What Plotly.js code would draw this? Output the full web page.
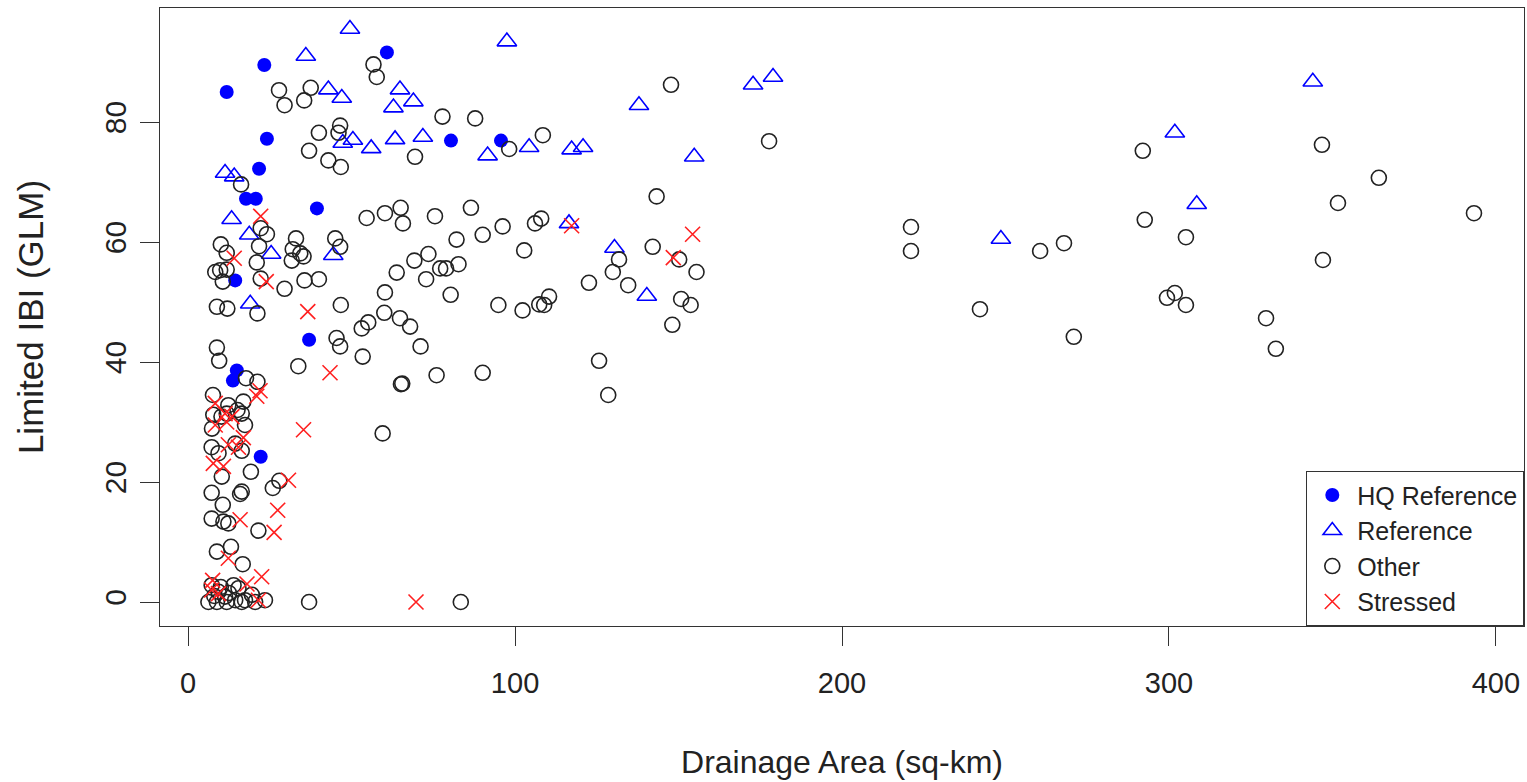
<!DOCTYPE html>
<html>
<head>
<meta charset="utf-8">
<script src="https://cdn.plot.ly/plotly-3.0.1.min.js"></script>
<style>html,body{margin:0;padding:0;background:#fff;}#chart{width:1527px;height:782px;}</style>
</head>
<body>
<div id="chart"></div>
<script>
// HQ Reference (filled blue circles)
const hqX = [23.3, 11.8, 60.8, 24.1, 21.7, 17.7, 20.7, 39.4, 14.4, 37.0, 14.9, 13.7, 22.2, 80.4, 95.7];
const hqY = [89.5, 85.0, 91.6, 77.2, 72.2, 67.2, 67.2, 65.6, 53.6, 43.7, 38.6, 36.9, 24.2, 76.9, 76.9];

// Reference (open blue triangles)
const refX = [49.5, 36.0, 97.5, 42.9, 47.0, 64.8, 62.8, 68.9, 47.3, 50.4, 56.0, 63.3, 71.8, 91.6, 104.3,
  11.3, 14.1, 13.3, 18.7, 25.4, 44.4, 19.0, 137.9, 117.3, 120.8, 154.8, 116.5, 130.4, 140.3,
  172.8, 178.9, 344.0, 301.8, 308.5, 248.6];
const refY = [95.5, 91.0, 93.4, 85.4, 84.0, 85.4, 82.4, 83.4, 76.5, 77.0, 75.6, 77.1, 77.5, 74.4, 75.8,
  71.5, 70.9, 63.8, 61.2, 58.0, 57.8, 49.7, 82.8, 75.4, 75.8, 74.2, 63.1, 59.0, 51.0,
  86.2, 87.5, 86.7, 78.2, 66.3, 60.5];

// Other (open black circles)
const othX = [27.8, 29.5, 37.5, 35.5, 46.5, 46.0, 40.0, 37.0, 42.9, 46.7, 16.2,
  56.7, 57.7, 77.8, 87.8, 69.4, 98.2,
  22.2, 24.1, 21.7, 10.0, 11.8, 21.0, 33.0, 32.0, 34.3, 31.7, 35.3, 45.0, 46.5, 8.3, 9.8, 11.8, 10.6, 22.2, 29.5, 35.6, 40.0,
  8.8, 12.0, 21.2, 46.7, 45.4, 46.5, 8.8, 9.5, 33.7, 17.7, 21.2,
  7.6, 12.3, 16.9, 15.1, 7.7, 11.8, 16.4, 17.4, 7.3, 10.2,
  7.2, 9.3, 14.4, 16.4, 10.3, 19.2, 25.9, 27.9, 16.4, 15.9, 7.2, 10.6, 21.5, 7.2, 10.8, 12.3, 8.8, 13.1, 16.7,
  7.2, 9.3, 11.3, 13.9, 15.4, 17.4, 19.5, 20.5, 23.5, 6.2, 8.8, 11.8, 14.4, 16.4, 37.0, 83.4, 8.0, 10.0, 12.5,
  54.6, 60.2, 65.0, 75.5, 86.5, 106.1, 108.0, 65.7, 96.2, 90.1, 82.1, 102.8, 73.5, 69.2, 63.8, 72.8, 77.1, 78.9, 82.7,
  80.3, 60.2, 60.0, 55.1, 53.1, 64.8, 67.9, 71.1, 53.4, 94.9, 102.3, 107.4, 76.0, 90.1, 65.1, 65.5, 59.5,
  147.7, 108.5, 143.3, 131.8, 142.1, 150.2, 129.9, 155.5, 122.6, 134.6, 150.8, 153.7, 110.4, 108.9, 148.1, 125.7, 128.5, 177.7,
  221.1, 221.1, 242.2, 260.6, 267.9, 270.9, 292.0, 292.6, 299.4, 301.8, 305.2, 305.2, 329.7, 332.7, 346.8, 351.7, 347.1, 364.2, 393.3];
const othY = [85.3, 82.8, 85.7, 83.6, 79.4, 78.2, 78.2, 75.2, 73.6, 72.5, 69.6,
  89.6, 87.5, 80.9, 80.6, 74.2, 75.5,
  62.3, 61.3, 59.3, 59.6, 58.2, 56.6, 60.6, 58.8, 58.1, 56.9, 57.6, 60.6, 59.2, 55.0, 55.3, 55.4, 53.4, 53.9, 52.2, 53.6, 53.8,
  49.2, 48.9, 48.1, 49.5, 44.0, 42.6, 42.4, 40.2, 39.3, 37.3, 36.7,
  34.5, 32.8, 33.4, 32.0, 31.2, 31.4, 31.4, 29.5, 28.9, 30.9,
  25.8, 24.8, 26.4, 25.2, 20.9, 21.7, 19.0, 20.2, 18.4, 18.0, 18.2, 16.2, 11.9, 13.9, 13.4, 13.1, 8.4, 9.2, 6.3,
  2.8, 1.7, 0.9, 2.8, 2.3, 0.3, 1.2, 0.0, 0.3, 0.0, 0.0, 0.0, 0.3, 0.0, 0.0, 0.0, 1.0, 2.5, 1.5,
  64.0, 64.8, 65.7, 64.3, 65.7, 63.1, 63.9, 63.1, 62.6, 61.2, 60.4, 58.6, 58.0, 56.9, 54.9, 53.8, 55.6, 55.6, 56.3,
  51.2, 51.6, 48.2, 46.6, 45.6, 47.3, 45.9, 42.6, 40.9, 49.5, 48.6, 49.6, 37.8, 38.2, 36.3, 36.4, 28.1,
  86.2, 77.8, 67.6, 57.1, 59.2, 57.1, 55.0, 55.0, 53.2, 52.8, 50.5, 49.5, 50.9, 49.5, 46.2, 40.2, 34.5, 76.8,
  62.5, 58.5, 48.8, 58.5, 59.8, 44.2, 75.2, 63.7, 50.7, 51.5, 60.8, 49.5, 47.3, 42.2, 76.2, 66.5, 57.0, 70.7, 64.8];

// Stressed (red x)
const strX = [22.2, 14.1, 23.9, 36.6, 43.4, 21.0, 22.0, 8.3, 11.3, 35.3, 8.3, 13.4, 7.7, 10.8, 12.3, 15.4, 16.9,
  30.7, 27.4, 26.3, 15.9, 12.3, 7.5, 22.5, 18.0, 9.3, 21.5, 69.7, 117.3, 154.3, 148.4, 11.8, 7.2];
const strY = [64.3, 57.3, 53.4, 48.4, 38.2, 34.3, 35.2, 33.1, 31.4, 28.7, 29.5, 30.9, 23.1, 22.6, 26.2, 25.8, 27.4,
  20.3, 15.3, 11.6, 13.7, 7.3, 3.6, 4.2, 3.0, 1.4, 0.3, 0.0, 62.7, 61.3, 57.4, 30.0, 2.0];

const xTicks = [0, 100, 200, 300, 400];
const yTicks = [0, 20, 40, 60, 80];

const FONT = 'Liberation Sans, Arial, sans-serif';
const TXT = '#222222';
const traces = [
  {x: hqX, y: hqY, name: 'HQ Reference', type: 'scatter', mode: 'markers',
   marker: {symbol: 'circle', size: 14, color: '#0000ff'}},
  {x: refX, y: refY, name: 'Reference', type: 'scatter', mode: 'markers',
   marker: {symbol: 'triangle-up-open', size: 17, color: '#0000ff', line: {width: 1.6, color: '#0000ff'}}},
  {x: othX, y: othY, name: 'Other', type: 'scatter', mode: 'markers',
   marker: {symbol: 'circle-open', size: 15, color: TXT, line: {width: 1.6, color: TXT}}},
  {x: strX, y: strY, name: 'Stressed', type: 'scatter', mode: 'markers',
   marker: {symbol: 'x-thin-open', size: 15, color: '#ff2020', line: {width: 1.6, color: '#ff2020'}}}
];

const layout = {
  width: 1527, height: 782,
  margin: {l: 160, r: 3, t: 8, b: 156},
  paper_bgcolor: '#ffffff', plot_bgcolor: '#ffffff',
  font: {family: FONT, color: TXT, size: 28},
  showlegend: true,
  xaxis: {
    range: [-8.6, 408.6], tickvals: xTicks, ticktext: xTicks.map(String),
    showgrid: false, zeroline: false, showline: true, mirror: true, linecolor: '#333333', linewidth: 1.3,
    ticks: 'outside', ticklen: 19, tickcolor: '#333333', tickwidth: 1,
    ticklabelstandoff: 12,
    tickfont: {size: 29, family: FONT, color: TXT},
    title: {text: 'Drainage Area (sq-km)', font: {size: 32, family: FONT, color: TXT}, standoff: 52}
  },
  yaxis: {
    range: [-4, 99], tickvals: yTicks, ticktext: yTicks.map(String),
    showgrid: false, zeroline: false, showline: true, mirror: true, linecolor: '#333333', linewidth: 1.3,
    ticks: 'outside', ticklen: 19, tickcolor: '#333333', tickwidth: 1, tickangle: -90,
    ticklabelstandoff: 2,
    tickfont: {size: 30, family: FONT, color: TXT},
    title: {text: 'Limited IBI (GLM)', font: {size: 35, family: FONT, color: TXT}, standoff: 44}
  },
  legend: {
    x: 1, y: 0, xanchor: 'right', yanchor: 'bottom', xref: 'paper', yref: 'paper',
    bgcolor: '#ffffff', bordercolor: '#333333', borderwidth: 1.3,
    font: {size: 25, family: FONT, color: TXT},
    itemwidth: 40,
    itemclick: false, itemdoubleclick: false
  }
};

Plotly.newPlot('chart', traces, layout, {displayModeBar: false, staticPlot: true});
</script>
</body>
</html>
